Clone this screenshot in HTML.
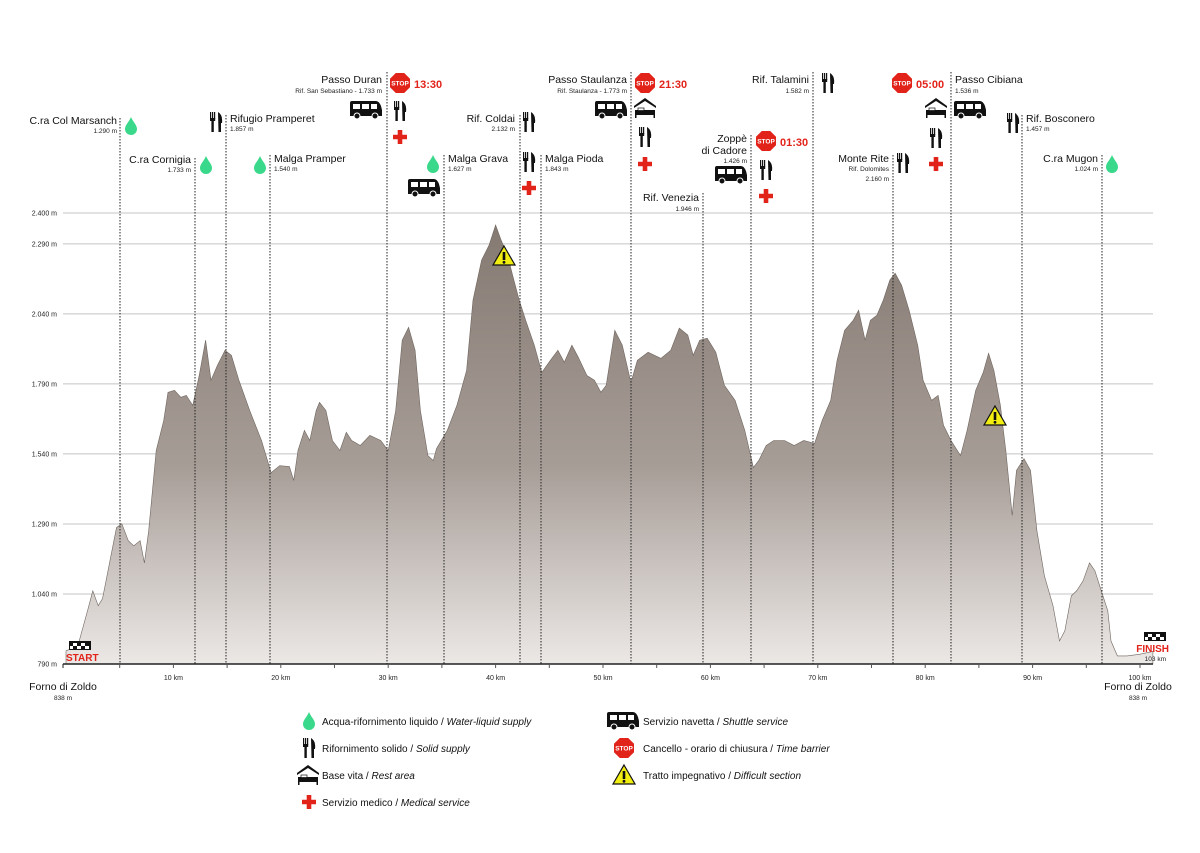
<!DOCTYPE html>
<html><head><meta charset="utf-8">
<style>
html,body{margin:0;padding:0;background:#fff;}
svg{display:block;font-family:"Liberation Sans",sans-serif;}
.t{font-size:10.5px;fill:#111;}
.s{font-size:6.5px;fill:#222;}
.tk{font-size:7px;fill:#222;}
.tm{font-size:11px;font-weight:bold;fill:#e2231a;}
.lg{font-size:10px;fill:#111;}
.dl{stroke:#222;stroke-width:1;stroke-dasharray:1.5,1.5;}
</style></head>
<body>
<svg id="chart" width="1200" height="853" viewBox="0 0 1200 853">
<defs>
<linearGradient id="fillg" x1="0" y1="0" x2="0" y2="1">
<stop offset="0" stop-color="#857a72"/><stop offset="0.55" stop-color="#a79d97"/><stop offset="1" stop-color="#ece8e6"/>
</linearGradient>
<symbol id="i-drop" viewBox="-7 -9 14 18" overflow="visible"><path d="M0,-9 C2,-4 6,-1 6,3 A6,6 0 0 1 -6,3 C-6,-1 -2,-4 0,-9Z" fill="#3ad88a"/></symbol>
<symbol id="i-cut" viewBox="-7 -10 14 20" overflow="visible"><rect x="-6" y="-10" width="1.2" height="7" fill="#111"/><rect x="-4" y="-10" width="1.2" height="7" fill="#111"/><rect x="-2" y="-10" width="1.2" height="7" fill="#111"/><rect x="-6" y="-4" width="5.2" height="3" fill="#111"/><rect x="-4.6" y="-2" width="2.4" height="12" fill="#111"/><path d="M2,-10 Q7,-7 6,1 L5,1 L5,10 L2.5,10 Z" fill="#111"/></symbol>
<symbol id="i-bus" viewBox="-17 -9 34 18" overflow="visible"><path d="M-16,6 L-16,-7 Q-16,-9 -14,-9 L10,-9 Q13,-9 15,-4 L16,0 L16,6 Z" fill="#111"/><rect x="-13" y="-6" width="7" height="5" fill="#fff"/><rect x="-4" y="-6" width="7" height="5" fill="#fff"/><rect x="5" y="-6" width="6" height="5" fill="#fff"/><circle cx="-9" cy="6" r="3" fill="#111" stroke="#fff" stroke-width="1"/><circle cx="9" cy="6" r="3" fill="#111" stroke="#fff" stroke-width="1"/></symbol>
<symbol id="i-stop" viewBox="-10 -10 20 20" overflow="visible"><polygon points="-4.2,-10 4.2,-10 10,-4.2 10,4.2 4.2,10 -4.2,10 -10,4.2 -10,-4.2" fill="#e2231a"/><text x="0" y="2.3" text-anchor="middle" font-size="6.5" font-weight="bold" fill="#fff" font-family="Liberation Sans, sans-serif">STOP</text></symbol>
<symbol id="i-cross" viewBox="-7 -7 14 14" overflow="visible"><path d="M-2.3,-7 H2.3 V-2.3 H7 V2.3 H2.3 V7 H-2.3 V2.3 H-7 V-2.3 H-2.3Z" fill="#e2231a"/></symbol>
<symbol id="i-rest" viewBox="-11 -10 22 20" overflow="visible"><path d="M-11,-2 L0,-10 L11,-2 L11,0 L0,-7 L-11,0Z" fill="#111"/><rect x="-10" y="2" width="20" height="5" fill="#111"/><rect x="-10" y="2" width="1.5" height="8" fill="#111"/><rect x="8.5" y="2" width="1.5" height="8" fill="#111"/><rect x="-7" y="0" width="6" height="2.5" fill="#fff" stroke="#111" stroke-width="0.7"/></symbol>
<symbol id="i-warn" viewBox="-12 -11 24 22" overflow="visible"><polygon points="0,-10 11,9 -11,9" fill="#f2ee12" stroke="#111" stroke-width="1.2"/><rect x="-1.3" y="-4" width="2.6" height="8" fill="#111"/><circle cx="0" cy="6.3" r="1.4" fill="#111"/></symbol>
<symbol id="i-flag" viewBox="-11 -5 22 10" overflow="visible"><rect x="-11" y="-5" width="22" height="9" fill="#111"/><rect x="-7" y="-3" width="4" height="3" fill="#fff"/><rect x="1" y="-3" width="4" height="3" fill="#fff"/><rect x="-3" y="0" width="4" height="3" fill="#fff"/><rect x="5" y="0" width="4" height="3" fill="#fff"/><rect x="-10" y="0" width="3" height="3" fill="#fff"/></symbol>
</defs>

<g id="grid"></g>
<path id="area" fill="url(#fillg)" stroke="#6f655f" stroke-width="0.6"/>
<g id="yaxis"></g>
<g id="xaxis"></g>

<!-- dotted station lines -->
<g>
<line class="dl" x1="120" y1="118" x2="120" y2="664"/>
<line class="dl" x1="195" y1="158" x2="195" y2="664"/>
<line class="dl" x1="226" y1="115" x2="226" y2="664"/>
<line class="dl" x1="270" y1="155" x2="270" y2="664"/>
<line class="dl" x1="387" y1="72" x2="387" y2="664"/>
<line class="dl" x1="444" y1="155" x2="444" y2="664"/>
<line class="dl" x1="520" y1="115" x2="520" y2="664"/>
<line class="dl" x1="541" y1="155" x2="541" y2="664"/>
<line class="dl" x1="631" y1="72" x2="631" y2="664"/>
<line class="dl" x1="703" y1="193" x2="703" y2="664"/>
<line class="dl" x1="751" y1="135" x2="751" y2="664"/>
<line class="dl" x1="813" y1="72" x2="813" y2="664"/>
<line class="dl" x1="893" y1="155" x2="893" y2="664"/>
<line class="dl" x1="951" y1="72" x2="951" y2="664"/>
<line class="dl" x1="1022" y1="115" x2="1022" y2="664"/>
<line class="dl" x1="1102" y1="155" x2="1102" y2="664"/>
</g>

<!-- station labels -->
<g><text class="t" x="117" y="124" text-anchor="end">C.ra Col Marsanch</text><text class="s" x="117" y="133" text-anchor="end">1.290 m</text><use href="#i-drop" x="124" y="117" width="14" height="18"/></g>
<g><text class="t" x="191" y="163" text-anchor="end">C.ra Cornigia</text><text class="s" x="191" y="172" text-anchor="end">1.733 m</text><use href="#i-drop" x="199" y="156" width="14" height="18"/></g>
<g><text class="t" x="230" y="122">Rifugio Pramperet</text><text class="s" x="230" y="131">1.857 m</text><use href="#i-cut" x="209" y="112" width="14" height="20"/></g>
<g><text class="t" x="274" y="162">Malga Pramper</text><text class="s" x="274" y="171">1.540 m</text><use href="#i-drop" x="253" y="156" width="14" height="18"/></g>
<g><text class="t" x="382" y="83" text-anchor="end">Passo Duran</text><text class="s" x="382" y="93" text-anchor="end">Rif. San Sebastiano - 1.733 m</text><use href="#i-stop" x="390" y="73" width="20" height="20"/><text class="tm" x="414" y="88">13:30</text><use href="#i-bus" x="349" y="101" width="34" height="18"/><use href="#i-cut" x="393" y="101" width="14" height="20"/><use href="#i-cross" x="393" y="130" width="14" height="14"/></g>
<g><text class="t" x="448" y="162">Malga Grava</text><text class="s" x="448" y="171">1.627 m</text><use href="#i-drop" x="426" y="155" width="14" height="18"/><use href="#i-bus" x="407" y="179" width="34" height="18"/></g>
<g><text class="t" x="515" y="122" text-anchor="end">Rif. Coldai</text><text class="s" x="515" y="131" text-anchor="end">2.132 m</text><use href="#i-cut" x="522" y="112" width="14" height="20"/></g>
<g><text class="t" x="545" y="162">Malga Pioda</text><text class="s" x="545" y="171">1.843 m</text><use href="#i-cut" x="522" y="152" width="14" height="20"/><use href="#i-cross" x="522" y="181" width="14" height="14"/></g>
<g><text class="t" x="627" y="83" text-anchor="end">Passo Staulanza</text><text class="s" x="627" y="93" text-anchor="end">Rif. Staulanza - 1.773 m</text><use href="#i-stop" x="635" y="73" width="20" height="20"/><text class="tm" x="659" y="88">21:30</text><use href="#i-bus" x="594" y="101" width="34" height="18"/><use href="#i-rest" x="634" y="98" width="22" height="20"/><use href="#i-cut" x="638" y="127" width="14" height="20"/><use href="#i-cross" x="638" y="157" width="14" height="14"/></g>
<g><text class="t" x="699" y="201" text-anchor="end">Rif. Venezia</text><text class="s" x="699" y="211" text-anchor="end">1.946 m</text></g>
<g><text class="t" x="747" y="142" text-anchor="end">Zoppè</text><text class="t" x="747" y="154" text-anchor="end">di Cadore</text><text class="s" x="747" y="163" text-anchor="end">1.426 m</text><use href="#i-stop" x="756" y="131" width="20" height="20"/><text class="tm" x="780" y="146">01:30</text><use href="#i-bus" x="714" y="166" width="34" height="18"/><use href="#i-cut" x="759" y="160" width="14" height="20"/><use href="#i-cross" x="759" y="189" width="14" height="14"/></g>
<g><text class="t" x="809" y="83" text-anchor="end">Rif. Talamini</text><text class="s" x="809" y="93" text-anchor="end">1.582 m</text><use href="#i-cut" x="821" y="73" width="14" height="20"/></g>
<g><text class="t" x="889" y="162" text-anchor="end">Monte Rite</text><text class="s" x="889" y="171" text-anchor="end">Rif. Dolomites</text><text class="s" x="889" y="181" text-anchor="end">2.160 m</text><use href="#i-cut" x="896" y="153" width="14" height="20"/></g>
<g><text class="t" x="955" y="83">Passo Cibiana</text><text class="s" x="955" y="93">1.536 m</text><use href="#i-stop" x="892" y="73" width="20" height="20"/><text class="tm" x="916" y="88">05:00</text><use href="#i-rest" x="925" y="98" width="22" height="20"/><use href="#i-bus" x="953" y="101" width="34" height="18"/><use href="#i-cut" x="929" y="128" width="14" height="20"/><use href="#i-cross" x="929" y="157" width="14" height="14"/></g>
<g><text class="t" x="1026" y="122">Rif. Bosconero</text><text class="s" x="1026" y="131">1.457 m</text><use href="#i-cut" x="1006" y="113" width="14" height="20"/></g>
<g><text class="t" x="1098" y="162" text-anchor="end">C.ra Mugon</text><text class="s" x="1098" y="171" text-anchor="end">1.024 m</text><use href="#i-drop" x="1105" y="155" width="14" height="18"/></g>

<use href="#i-warn" x="492" y="245" width="24" height="22"/>
<use href="#i-warn" x="983" y="405" width="24" height="22"/>

<g><use href="#i-flag" x="69" y="641" width="22" height="10"/><text x="66" y="661" font-size="10" font-weight="bold" fill="#e2231a">START</text></g>
<g><use href="#i-flag" x="1144" y="632" width="22" height="10"/><text x="1169" y="652" text-anchor="end" font-size="10" font-weight="bold" fill="#e2231a">FINISH</text><text class="s" x="1166" y="661" text-anchor="end">103 km</text></g>

<g><text x="63" y="690" text-anchor="middle" font-size="10.5" fill="#111">Forno di Zoldo</text><text class="s" x="63" y="700" text-anchor="middle">838 m</text></g>
<g><text x="1138" y="690" text-anchor="middle" font-size="10.5" fill="#111">Forno di Zoldo</text><text class="s" x="1138" y="700" text-anchor="middle">838 m</text></g>

<!-- legend -->
<g>
<g><use href="#i-drop" x="302" y="712" width="14" height="18"/><text class="lg" x="322" y="725">Acqua-rifornimento liquido / <tspan font-style="italic">Water-liquid supply</tspan></text></g>
<g><use href="#i-cut" x="302" y="738" width="14" height="20"/><text class="lg" x="322" y="752">Rifornimento solido / <tspan font-style="italic">Solid supply</tspan></text></g>
<g><use href="#i-rest" x="297" y="765" width="22" height="20"/><text class="lg" x="322" y="779">Base vita / <tspan font-style="italic">Rest area</tspan></text></g>
<g><use href="#i-cross" x="302" y="795" width="14" height="14"/><text class="lg" x="322" y="806">Servizio medico / <tspan font-style="italic">Medical service</tspan></text></g>
<g><use href="#i-bus" x="606" y="712" width="34" height="18"/><text class="lg" x="643" y="725">Servizio navetta / <tspan font-style="italic">Shuttle service</tspan></text></g>
<g><use href="#i-stop" x="614" y="738" width="20" height="20"/><text class="lg" x="643" y="752">Cancello - orario di chiusura / <tspan font-style="italic">Time barrier</tspan></text></g>
<g><use href="#i-warn" x="612" y="764" width="24" height="22"/><text class="lg" x="643" y="779">Tratto impegnativo / <tspan font-style="italic">Difficult section</tspan></text></g>
</g>
</svg>
<script>
const kmValues=[0,1.1,2.0,2.5,3.0,3.4,4.1,4.7,5.2,5.8,6.3,6.9,7.3,7.7,8.4,9.1,9.5,10.1,10.7,11.2,11.8,12.4,13.0,13.5,14.1,14.8,15.4,16.1,17.1,18.2,19.1,19.9,20.8,21.2,21.6,22.2,22.7,23.3,23.6,24.2,24.8,25.5,26.1,26.6,27.4,28.3,29.3,30.0,30.7,31.3,31.9,32.5,33.0,33.7,34.2,34.5,35.5,36.4,37.3,37.9,38.7,39.4,40.0,40.5,41.1,41.7,42.2,42.8,43.6,44.3,45.1,45.8,46.4,47.1,47.7,48.5,49.2,49.8,50.3,51.1,51.8,52.6,53.2,54.2,55.4,56.3,57.1,57.9,58.4,59.0,59.7,60.5,61.3,62.3,63.2,64.0,64.5,65.2,65.9,66.9,67.8,68.7,69.7,70.4,71.2,71.8,72.5,73.3,73.8,74.4,74.9,75.5,76.1,76.7,77.2,77.8,78.5,79.3,79.8,80.6,81.2,81.7,82.4,83.3,83.9,84.7,85.4,85.9,86.4,87.0,87.5,88.1,88.5,89.2,89.8,90.4,91.1,91.9,92.5,93.0,93.6,94.1,94.7,95.3,95.8,96.4,97.0,97.3,97.9,98.8,100.0,101.2];
const elevValues=[837,854,980,1051,998,1023,1159,1277,1291,1230,1212,1230,1151,1266,1552,1659,1760,1767,1742,1749,1713,1820,1946,1803,1856,1910,1892,1803,1695,1588,1473,1498,1495,1445,1552,1624,1588,1695,1724,1695,1588,1552,1617,1588,1570,1606,1588,1552,1695,1946,1992,1910,1695,1534,1516,1559,1624,1713,1838,2089,2232,2286,2357,2304,2250,2160,2089,2017,1928,1831,1874,1910,1867,1928,1885,1820,1803,1760,1785,1981,1928,1795,1874,1903,1881,1910,1989,1964,1892,1946,1953,1903,1785,1731,1624,1491,1516,1570,1588,1588,1570,1588,1577,1659,1731,1874,1981,2017,2053,1946,2017,2035,2089,2160,2185,2142,2053,1928,1803,1731,1749,1642,1588,1534,1624,1767,1831,1899,1838,1713,1552,1320,1481,1523,1481,1266,1105,998,872,908,1033,1051,1087,1151,1123,1051,980,872,819,819,825,835];
const yTicks=[790,1040,1290,1540,1790,2040,2290,2400];
const yTickLabels=["790 m","1.040 m","1.290 m","1.540 m","1.790 m","2.040 m","2.290 m","2.400 m"];
const xTicks=[5,10,15,20,25,30,35,40,45,50,55,60,65,70,75,80,85,90,95,100];
const xTickLabels=["","10 km","","20 km","","30 km","","40 km","","50 km","","60 km","","70 km","","80 km","","90 km","","100 km"];

const NS="http://www.w3.org/2000/svg";
const X0=66,KPX=10.74,PLOT_R=1153,BASE=664,YMIN=790,YMAX=2400,YTOP=213;
function xs(k){return X0+k*KPX;}
function ys(e){return BASE-(e-YMIN)/(YMAX-YMIN)*(BASE-YTOP);}
function mk(tag,attrs,parent){const el=document.createElementNS(NS,tag);for(const k in attrs)el.setAttribute(k,attrs[k]);parent.appendChild(el);return el;}

const grid=document.getElementById('grid'),yax=document.getElementById('yaxis'),xax=document.getElementById('xaxis');
yTicks.forEach((v,i)=>{
  const y=ys(v);
  if(v!==YMIN){const l=mk('line',{x1:63,x2:PLOT_R,y1:y,y2:y,stroke:'#c4c4c4','stroke-width':1},grid);
  
  }
  const t=mk('text',{x:57,y:y+2.5,'text-anchor':'end',class:'tk'},yax);t.textContent=yTickLabels[i];
  
  
});
let d='M'+xs(kmValues[0])+','+BASE;
kmValues.forEach((k,i)=>{d+=' L'+xs(k).toFixed(1)+','+ys(elevValues[i]).toFixed(1);});
d+=' L'+xs(kmValues[kmValues.length-1]).toFixed(1)+','+BASE+' Z';
document.getElementById('area').setAttribute('d',d);
mk('line',{x1:63,x2:PLOT_R,y1:BASE,y2:BASE,stroke:'#222','stroke-width':1.6},xax);
mk('line',{x1:63,x2:63,y1:BASE,y2:BASE+4,stroke:'#222','stroke-width':1},xax);
xTicks.forEach((k,i)=>{
  const x=xs(k);
  const tl=mk('line',{x1:x,x2:x,y1:BASE,y2:BASE+4,stroke:'#555','stroke-width':1},xax);
  
  
  if(xTickLabels[i]){const t=mk('text',{x:x,y:BASE+16,'text-anchor':'middle',class:'tk'},xax);t.textContent=xTickLabels[i];
  
  }
});
</script>
</body></html>
